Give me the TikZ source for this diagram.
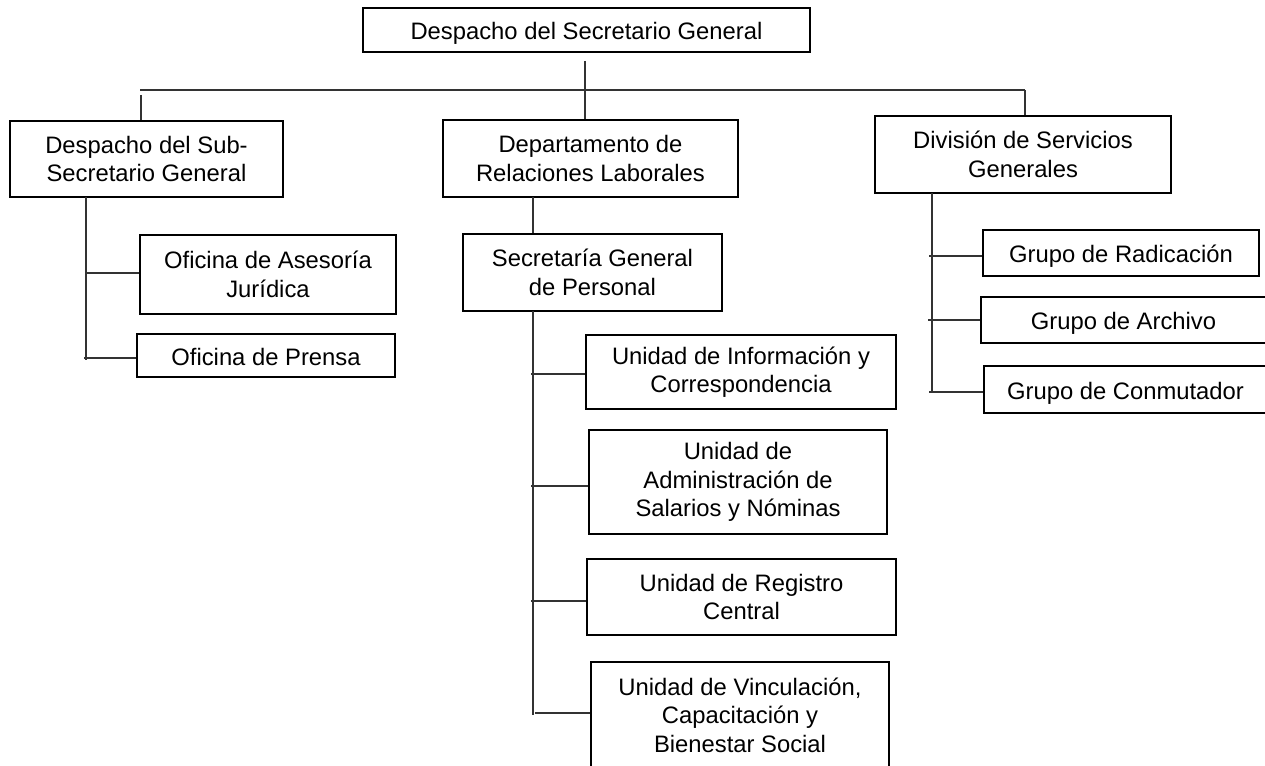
\documentclass[tikz,border=0pt]{standalone}
\usepackage{fontspec}
\setmainfont{Liberation Sans}
\begin{document}
\begin{tikzpicture}[x=1pt,y=-1pt,
  box/.style={draw, line width=1.5pt, rectangle, inner sep=0pt, align=center,
    font=\fontsize{23.8pt}{28.5pt}\selectfont},
  onebox/.style={box, text height=20pt, text depth=1pt},
  conn/.style={line width=1.2pt, draw=black!80}]
\useasboundingbox (0,0) rectangle (1265,765);
\clip (0,0) rectangle (1265,765);
% boxes
\node[onebox, minimum width=447pt, minimum height=44pt] (top) at (586.5,30) {Despacho del Secretario General};
\node[box, minimum width=273pt, minimum height=76pt] (sub) at (146.5,159) {Despacho del Sub-\\Secretario General};
\node[box, minimum width=295pt, minimum height=77pt] (dep) at (590.5,158.5) {Departamento de\\Relaciones Laborales};
\node[box, minimum width=296pt, minimum height=77pt] (div) at (1023,154.5) {División de Servicios\\Generales};
\node[box, minimum width=256pt, minimum height=79pt] (ase) at (268,274.5) {Oficina de Asesoría\\Jurídica};
\node[onebox, minimum width=258pt, minimum height=43pt] (pre) at (266,355.5) {Oficina de Prensa};
\node[box, minimum width=259pt, minimum height=77pt] (sgp) at (592.5,272.5) {Secretaría General\\de Personal};
\node[box, minimum width=310pt, minimum height=74pt] (inf) at (741,372) {Unidad de Información y\\Correspondencia};
\node[box, minimum width=298pt, minimum height=104pt] (adm) at (738,482) {Unidad de\\Administración de\\Salarios y Nóminas};
\node[box, minimum width=309pt, minimum height=76pt] (reg) at (741.5,597) {Unidad de Registro\\Central};
\node[box, minimum width=298pt, minimum height=106pt] (vin) at (740,715) {Unidad de Vinculación,\\Capacitación y\\Bienestar Social};
\node[onebox, minimum width=276pt, minimum height=46pt] (rad) at (1121,253) {Grupo de Radicación};
\node[onebox, minimum width=285pt, minimum height=46pt] (arc) at (1123.5,320) {Grupo de Archivo};
\node[onebox, minimum width=283pt, minimum height=47pt] (con) at (1125.5,389.5) {Grupo de Conmutador};
% coordinates
\coordinate (tv) at (585,61);
\coordinate (busL) at (140,90);
\coordinate (busR) at (1025,90);
\coordinate (dl) at (141,95);
\coordinate (sv) at (86,197);
\coordinate (svend) at (86,360);
\coordinate (c1) at (86,273);
\coordinate (c2) at (84,358);
\coordinate (dv) at (533,197);
\coordinate (pv) at (533,311);
\coordinate (pvend) at (533,715);
\coordinate (p1) at (531,374);
\coordinate (p2) at (531,486);
\coordinate (p3) at (531,601);
\coordinate (p4) at (535,713);
\coordinate (gv) at (932,193);
\coordinate (gvend) at (932,392);
\coordinate (g1) at (929,256);
\coordinate (g2) at (928,320);
\coordinate (g3) at (929,392);
% connectors
\draw[conn] (tv) -- (tv |- dep.north);
\draw[conn] (busL) -- (busR);
\draw[conn] (dl) -- (dl |- sub.north);
\draw[conn] (busR) -- (busR |- div.north);
\draw[conn] (sv) -- (svend);
\draw[conn] (c1) -- (c1 -| ase.west);
\draw[conn] (c2) -- (c2 -| pre.west);
\draw[conn] (dv) -- (dv |- sgp.north);
\draw[conn] (pv) -- (pvend);
\draw[conn] (p1) -- (p1 -| inf.west);
\draw[conn] (p2) -- (p2 -| adm.west);
\draw[conn] (p3) -- (p3 -| reg.west);
\draw[conn] (p4) -- (p4 -| vin.west);
\draw[conn] (gv) -- (gvend);
\draw[conn] (g1) -- (g1 -| rad.west);
\draw[conn] (g2) -- (g2 -| arc.west);
\draw[conn] (g3) -- (g3 -| con.west);
\end{tikzpicture}
\end{document}
